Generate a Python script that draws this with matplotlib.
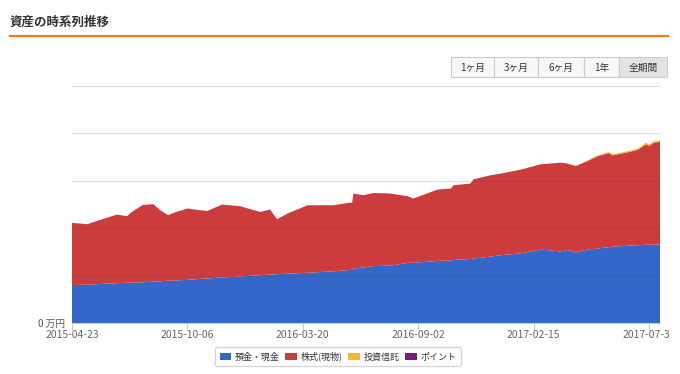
import matplotlib
matplotlib.use("Agg")
import matplotlib.pyplot as plt
import matplotlib.dates as mdates
from matplotlib.patches import Rectangle
from matplotlib.transforms import Bbox
import pandas as pd

plt.rcParams['font.family'] = ['Noto Sans CJK JP', 'DejaVu Sans']

# --- data (万円) ---
dates = ["2015-04-23", "2015-05-15", "2015-05-29", "2015-06-27", "2015-07-11", "2015-07-18",
         "2015-08-03", "2015-08-18", "2015-08-28", "2015-09-08", "2015-09-16", "2015-10-06",
         "2015-10-24", "2015-11-04", "2015-11-25", "2015-12-21", "2016-01-19", "2016-02-02",
         "2016-02-12", "2016-02-27", "2016-03-27", "2016-05-03", "2016-05-28", "2016-05-30",
         "2016-06-01", "2016-06-15", "2016-06-30", "2016-07-24", "2016-08-18", "2016-08-26",
         "2016-09-30", "2016-10-19", "2016-10-23", "2016-11-16", "2016-11-21", "2016-12-15",
         "2016-12-30", "2017-01-28", "2017-02-25", "2017-03-26", "2017-04-05", "2017-04-17",
         "2017-05-04", "2017-05-18", "2017-06-03", "2017-06-09", "2017-07-01", "2017-07-15",
         "2017-07-27", "2017-07-31", "2017-08-07", "2017-08-16"]
cash = [80, 81, 82, 84, 85, 85, 86, 87, 88, 89, 89.5, 91,
        93, 94, 96, 98, 101, 102, 103, 104, 106, 109, 112, 113,
        115, 117, 120, 121, 127, 127, 131, 132, 133, 135, 136, 140,
        143, 147, 155, 151, 154, 149, 155, 157, 160, 161, 163, 164,
        165, 165, 165.5, 166]
stocks = [131.2, 127.4, 133.4, 144.8, 140.3, 149.3, 163.1, 163.5, 149.9, 138.4, 142.7, 150.5,
          144.9, 142.4, 153.9, 148.3, 133.3, 137.4, 115.9, 126.9, 142.4, 139.4, 142.1, 140.3,
          158.1, 152.5, 154.3, 152.1, 140.4, 135.5, 150.5, 151.6, 157.5, 159.1, 167.2, 171.6,
          172.2, 176.6, 179.7, 187.3, 182.2, 182.2, 186.7, 194.7, 198.6, 192.8, 197.2, 201.3,
          212.4, 208.2, 214.7, 216.3]
funds = [0] * 42 + [1.5, 2, 2, 2, 2.5, 2.5, 3, 3, 3, 3]
points = [0] * 52

series_names = ["預金・現金", "株式(現物)", "投資信託", "ポイント"]
colors = ["#3467c9", "#cd3c3c", "#fdb52d", "#7b1b7e"]

tick_dates = ["2015-04-23", "2015-10-06", "2016-03-20", "2016-09-02", "2017-02-15", "2017-07-31"]
y_ticks = [0, 100, 200, 300, 400, 500]
y_labels = ["0 万円", "", "", "", "", ""]

W, H = 680, 374
fig = plt.figure(figsize=(W / 100, H / 100), dpi=100)


def fx(x):
    return x / W


def fy(y):
    return 1 - y / H


# header
fig.text(fx(10), fy(22), "資産の時系列推移", fontsize=9, fontweight='bold',
         color='#333333', va='center', ha='left')
fig.add_artist(plt.Line2D([fx(10), fx(668)], [fy(35.5), fy(35.5)], color='#ee7d12', lw=1.6))

# range buttons
buttons = [("1ヶ月", 451, 494), ("3ヶ月", 494, 538), ("6ヶ月", 538, 584),
           ("1年", 584, 619), ("全期間", 619, 667)]
for lab, x0, x1 in buttons:
    sel = lab == "全期間"
    fig.add_artist(Rectangle((fx(x0), fy(77)), fx(x1 - x0), (77 - 57) / H,
                             transform=fig.transFigure, facecolor='#e3e3e3' if sel else '#f7f7f7',
                             edgecolor='#cccccc', lw=0.8))
    fig.text(fx((x0 + x1) / 2), fy(67.5), lab, fontsize=7, color='#333333',
             ha='center', va='center')

# chart
ax = fig.add_axes([fx(72), fy(323), fx(660 - 72), (323 - 85.5) / H])
x = pd.to_datetime(dates)
ax.stackplot(x, cash, stocks, funds, points, colors=colors, lw=0)
ax.set_xlim(x[0], x[-1])
ax.set_ylim(0, 501)
ax.set_yticks(y_ticks)
ax.set_yticklabels(y_labels)
ax.yaxis.grid(True, color='#444444', lw=0.8, alpha=0.18)
ax.set_axisbelow(False)
for s in ['top', 'right', 'left']:
    ax.spines[s].set_visible(False)
ax.spines['bottom'].set_color('#cccccc')
ax.tick_params(axis='y', length=0, labelsize=7, labelcolor='#555555', pad=5)
ax.set_xticks(pd.to_datetime(tick_dates))
ax.xaxis.set_major_formatter(mdates.DateFormatter('%Y-%m-%d'))
ax.tick_params(axis='x', length=5, color='#cccccc', labelsize=7.5, labelcolor='#666666', pad=0)
for lbl in ax.get_xticklabels():
    lbl.set_clip_on(True)
    lbl.set_clip_box(Bbox([[0, 0], [669, H]]))

# legend
handles = [Rectangle((0, 0), 1, 1, facecolor=c, edgecolor='none') for c in colors]
fig.legend(handles, series_names, loc='center', bbox_to_anchor=(fx(338), fy(356.5)),
           ncol=4, fontsize=6.5, frameon=True, fancybox=True, edgecolor='#cccccc',
           handlelength=1.3, handleheight=0.9, handletextpad=0.4, columnspacing=0.6,
           borderpad=0.5, labelcolor='#333333')

fig.savefig("out.png", dpi=100)
